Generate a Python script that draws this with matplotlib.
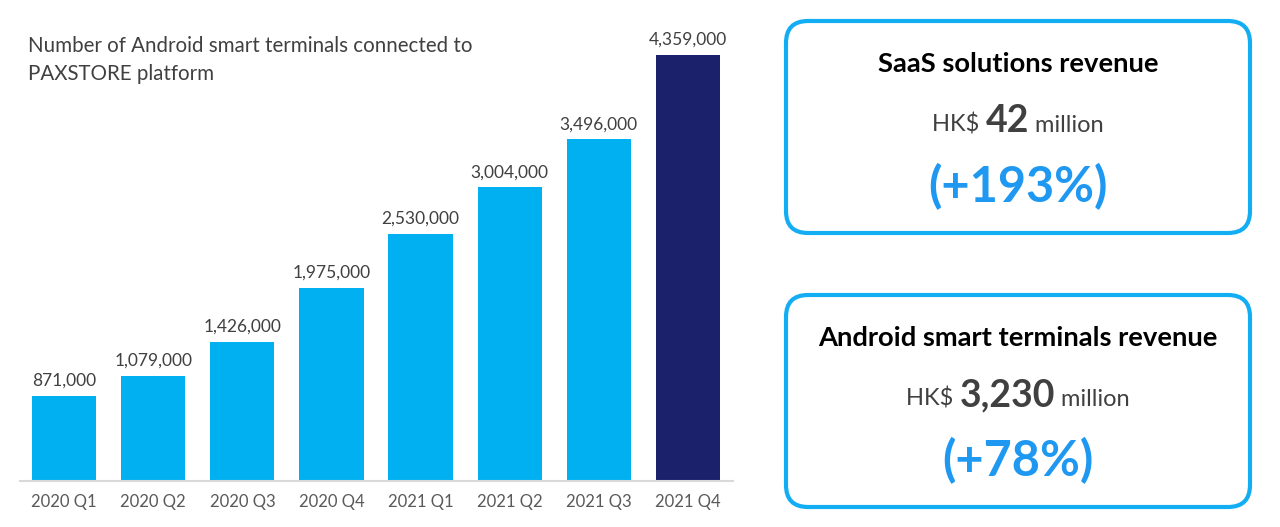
from matplotlib import pyplot as plt
from matplotlib.patches import FancyBboxPatch

# connected terminals per quarter
QUARTERS = ['2020 Q1', '2020 Q2', '2020 Q3', '2020 Q4',
            '2021 Q1', '2021 Q2', '2021 Q3', '2021 Q4']
TERMINALS = [871000, 1079000, 1426000, 1975000, 2530000, 3004000, 3496000, 4359000]

CHART_TITLE = ['Number of Android smart terminals connected to', 'PAXSTORE platform']

# right hand side boxes
BOX_TITLES = ['SaaS solutions revenue', 'Android smart terminals revenue']
BOX_AMOUNTS = ['42', '3,230']
BOX_GROWTH = ['(+193%)', '(+78%)']

plt.rcParams['font.family'] = ['Lato', 'DejaVu Sans']

fig = plt.figure(figsize=(12.8, 5.27), dpi=100)
W, H = 1280, 527

ax = fig.add_axes([19.5 / W, (H - 481) / H, 713 / W, 461 / H])
colors = ['#00B0F0'] * (len(QUARTERS) - 1) + ['#1C216B']
bars = ax.bar(QUARTERS, TERMINALS, width=0.72, color=colors)
ax.bar_label(bars, labels=['{:,}'.format(v) for v in TERMINALS],
             padding=5, fontsize=12.5, color='#404040')
ax.set_xlim(-0.5, len(QUARTERS) - 0.5)
ax.set_ylim(0, 4.717e6)
ax.set_yticks([])
for s in ['top', 'right', 'left']:
    ax.spines[s].set_visible(False)
ax.spines['bottom'].set_color('#D9D9D9')
ax.spines['bottom'].set_linewidth(1.5)
ax.tick_params(axis='x', length=0, pad=9, labelsize=12, labelcolor='#595959')

# overlay in pixel coordinates for title and boxes
ov = fig.add_axes([0, 0, 1, 1])
ov.set_xlim(0, W)
ov.set_ylim(H, 0)
ov.set_axis_off()

ov.text(28, 46, CHART_TITLE[0], fontsize=14.8, color='#404040', va='center')
ov.text(28, 74, CHART_TITLE[1], fontsize=14.8, color='#404040', va='center')

renderer = fig.canvas.get_renderer()
box_tops = [19, 293]
cx = 1018
for i in range(2):
    top = box_tops[i]
    box = FancyBboxPatch((786, top + 2), 464, 212,
                         boxstyle='round,pad=0,rounding_size=22',
                         facecolor='white', edgecolor='#12ADF2', linewidth=3)
    ov.add_patch(box)
    ov.text(cx, top + 45, BOX_TITLES[i], fontsize=19.7, fontweight='bold',
            color='black', ha='center', va='center')
    # amount line, three pieces centred together
    parts = [('HK$ ', 17, 'normal'), (BOX_AMOUNTS[i], 27, 'bold'), (' million', 17, 'normal')]
    texts = []
    for s, size, weight in parts:
        t = ov.text(0, top + 113, s, fontsize=size, fontweight=weight,
                    color='#404040', ha='left', va='baseline')
        texts.append(t)
    widths = [t.get_window_extent(renderer).width for t in texts]
    x = cx - sum(widths) / 2
    for t, w in zip(texts, widths):
        t.set_x(x)
        x += w
    ov.text(cx, top + 168, BOX_GROWTH[i], fontsize=35, fontweight='bold',
            color='#1E98F0', ha='center', va='center')

fig.savefig('out.png', dpi=100)
